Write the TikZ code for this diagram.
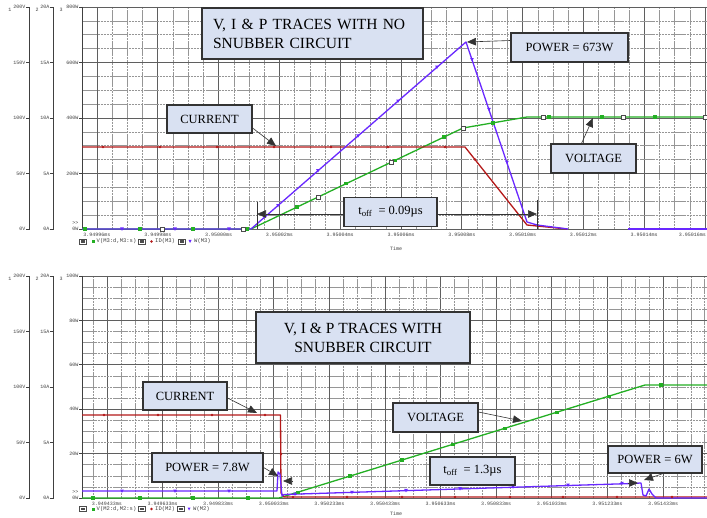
\documentclass[tikz,border=0pt]{standalone}
\usepackage{fontspec}
\setmainfont{Liberation Serif}
\setmonofont{Liberation Mono}
\usetikzlibrary{arrows.meta}
\definecolor{vgreen}{RGB}{35,175,35}
\definecolor{ired}{RGB}{180,25,25}
\definecolor{pblue}{RGB}{105,40,255}
\definecolor{boxfill}{RGB}{217,225,242}
\definecolor{majgrid}{RGB}{95,95,95}
\definecolor{mingrid}{RGB}{150,150,150}
\begin{document}
\begin{tikzpicture}[x=1pt,y=-1pt,
  majg/.style={draw=majgrid,line width=0.9pt},
  ming/.style={draw=mingrid,line width=0.5pt,dash pattern=on 2.5pt off 0.6pt},
  axc/.style={draw=black!75,line width=0.8pt},
  tick/.style={font=\ttfamily\fontsize{5}{5}\selectfont,text=black!75,inner sep=0pt},
  legt/.style={font=\ttfamily\fontsize{5.5}{5.5}\selectfont,text=black!75,inner sep=0pt,anchor=west},
  gtr/.style={draw=vgreen,line width=1.3pt,line join=round},
  rtr/.style={draw=ired,line width=1.3pt,line join=round},
  btr/.style={draw=pblue,line width=1.3pt,line join=round},
  lbl/.style={draw=black!80,line width=1.1pt,fill=boxfill,inner sep=0pt,
     font=\fontsize{12.5}{15}\selectfont,align=center},
  ttl/.style={draw=black!80,line width=1.1pt,fill=boxfill,inner ysep=0pt,
     font=\fontsize{15.5}{19}\selectfont},
  arr/.style={draw=black!80,line width=0.6pt,-{Triangle[length=9pt,width=7.5pt]}}
]
\useasboundingbox (0,0) rectangle (707,518);
\fill[white] (0,0) rectangle (707,518);

% ================= TOP PLOT GRID =================
\foreach \j in {0,...,40}{
  \pgfmathsetmacro\xx{97+15.2*\j}
  \pgfmathtruncatemacro\mymod{mod(\j,4)}
  \ifnum\mymod=0 \draw[majg] (\xx,7) -- (\xx,229); \else \draw[ming] (\xx,7) -- (\xx,229); \fi
}
\foreach \j in {1,...,15}{
  \pgfmathsetmacro\yy{229-13.875*\j}
  \pgfmathtruncatemacro\mymod{mod(\j,4)}
  \ifnum\mymod=0 \draw[majg] (82,\yy) -- (707,\yy); \else \draw[ming] (82,\yy) -- (707,\yy); \fi
}
\draw[majg] (82,7) -- (707,7);
\draw[majg] (82,229) -- (707,229);
\draw[axc] (82,7) -- (82,229);

% top axes
\draw[axc] (26,7) -- (29,7) -- (29,229) -- (26,229);
\draw[axc] (50,7) -- (53,7) -- (53,229) -- (50,229);
\foreach \v/\a/\w [count=\i from 0] in {0V/0A/0W,50V/5A/200W,100V/10A/400W,150V/15A/600W,200V/20A/800W}{
  \pgfmathsetmacro\yy{229-55.5*\i}
  \draw[axc] (26,\yy) -- (29,\yy);
  \draw[axc] (50,\yy) -- (53,\yy);
  \draw[axc] (79,\yy) -- (82,\yy);
  \node[tick,anchor=east] (tva\i) at (25.5,\yy) {\v};
  \node[tick,anchor=east] (taa\i) at (49.5,\yy) {\a};
  \node[tick,anchor=east] (twa\i) at (78.5,\yy) {\w};
}
\node[tick] (tn1) at (10,10) {1};
\node[tick] (tn2) at (37,10) {2};
\node[tick] (tn3) at (61,10) {3};
\node[tick,anchor=east] (tgg) at (78.5,223.5) {>>};

% top x labels
\foreach \t [count=\i from 0] in {3.94996ms,3.94998ms,3.95000ms,3.95002ms,3.95004ms,3.95006ms,3.95008ms,3.95010ms,3.95012ms,3.95014ms}{
  \pgfmathsetmacro\xx{97+60.8*\i}
  \node[tick] (txl\i) at (\xx,235) {\t};
}
\node[tick,anchor=east] (txl10) at (706,235) {3.95016ms};
\node[tick] (ttime) at (396,249) {Time};

% top legend
\foreach \bx in {83,142,182}{
  \draw[black!70,line width=0.5pt] (\bx-3.5,239) rectangle (\bx+3.5,244);
  \fill[black!70] (\bx-2,240.3) rectangle (\bx+2,242.7);
}
\fill[vgreen] (91.5,240) rectangle (94.5,243);
\node[legt] (tleg1) at (96.5,241.5) {V(M3:d,M3:s)};
\fill[ired] (151.5,241.5) circle (1.4);
\node[legt] (tleg2) at (155,241.5) {ID(M3)};
\fill[pblue] (188.5,240) -- (191.5,240) -- (190,243) -- cycle;
\node[legt] (tleg3) at (194,241.5) {W(M3)};

% top traces
\draw[gtr] (82,229) -- (251,229) -- (463,128) -- (527,117) -- (707,117);
\draw[rtr] (82,147) -- (465,147) -- (527,225) -- (567,229);
\draw[btr] (82,229) -- (251,229) -- (466,42) -- (527,222) -- (537,225) -- (568,229);
\draw[btr] (628,229) -- (707,229);

% top markers
\foreach \x in {85,140,193,247}{\fill[vgreen] (\x-1.6,227.4) rectangle (\x+1.6,230.6);}
\foreach \x in {297,346,395,444}{
  \pgfmathsetmacro\yy{229-0.4764*(\x-251)}
  \fill[vgreen] (\x-1.6,\yy-1.6) rectangle (\x+1.6,\yy+1.6);}
\fill[vgreen] (491.4,121.4) rectangle (494.6,124.6);
\foreach \x in {549,602,655}{\fill[vgreen] (\x-1.6,115.4) rectangle (\x+1.6,118.6);}
\foreach \x/\y in {162/229,243/229,318/197.1,391/162.3,463/128,543/117,623/117,705/117}{
  \filldraw[fill=white,draw=black!70,line width=0.5pt] (\x-2,\y-2) rectangle (\x+2,\y+2);}
\foreach \x in {103,160,217,274,331,388,445}{\fill[ired] (\x,147) circle (1.4);}
\fill[ired] (475,159.5) circle (1.4);
\foreach \x in {122,175,229}{\fill[pblue] (\x-1.8,227.5) -- (\x+1.8,227.5) -- (\x,230.8) -- cycle;}
\foreach \x in {278,318,358,398,437}{
  \pgfmathsetmacro\yy{229-0.8698*(\x-251)}
  \fill[pblue] (\x-1.8,\yy-1.5) -- (\x+1.8,\yy-1.5) -- (\x,\yy+1.8) -- cycle;}
\foreach \x in {472,489,507}{
  \pgfmathsetmacro\yy{42+2.934*(\x-466)}
  \fill[pblue] (\x-1.8,\yy-1.5) -- (\x+1.8,\yy-1.5) -- (\x,\yy+1.8) -- cycle;}

% top annotations
\node[ttl,minimum width=221pt,minimum height=51pt,text width=199pt,inner xsep=11pt,align=left]
  (title1) at (312.5,33.5) {V, I \& P TRACES WITH NO\\SNUBBER CIRCUIT};
\node[lbl,minimum width=85pt,minimum height=28pt] (cur1) at (209.5,119) {CURRENT};
\node[lbl,minimum width=117pt,minimum height=29pt] (p673) at (569.5,47.5) {POWER = 673W};
\node[lbl,minimum width=85pt,minimum height=29pt] (volt1) at (593.5,158.5) {VOLTAGE};
\node[lbl,minimum width=93pt,minimum height=29pt] (toff1) at (390.5,212) {t\textsubscript{off}\ \ = 0.09µs};
\coordinate (peak) at (467,42);
\coordinate (curA) at (276,146);
\coordinate (voltA) at (593,118);
\coordinate (tl1) at (257,214);
\coordinate (tr1) at (537,214);
\draw[arr] ([yshift=7pt]p673.west) -- (peak);
\draw[arr] ([yshift=-9pt]cur1.east) -- (curA);
\draw[arr] ([xshift=-12pt]volt1.north) -- (voltA);
\draw[arr] (toff1.west |- tl1) -- (tl1);
\draw[arr] (toff1.east |- tr1) -- (tr1);
\draw[draw=black!80,line width=0.8pt] (257,202) -- (257,229);
\draw[draw=black!80,line width=0.8pt] (537,200) -- (537,229);

% ================= BOTTOM PLOT GRID =================
\foreach \j in {-1,...,43}{
  \pgfmathsetmacro\xx{107+13.9*\j}
  \pgfmathtruncatemacro\mymod{mod(\j,4)}
  \ifnum\mymod=0 \draw[majg] (\xx,276) -- (\xx,498); \else \draw[ming] (\xx,276) -- (\xx,498); \fi
}
\foreach \j in {1,...,19}{
  \pgfmathsetmacro\yy{498-11.1*\j}
  \pgfmathtruncatemacro\mymod{mod(\j,4)}
  \ifnum\mymod=0 \draw[majg] (82,\yy) -- (707,\yy); \else \draw[ming] (82,\yy) -- (707,\yy); \fi
}
\draw[majg] (82,276) -- (707,276);
\draw[majg] (82,498) -- (707,498);
\draw[axc] (82,276) -- (82,498);

% bottom axes
\draw[axc] (26,276) -- (29,276) -- (29,498) -- (26,498);
\draw[axc] (50,276) -- (53,276) -- (53,498) -- (50,498);
\foreach \v/\a [count=\i from 0] in {0V/0A,50V/5A,100V/10A,150V/15A,200V/20A}{
  \pgfmathsetmacro\yy{498-55.5*\i}
  \draw[axc] (26,\yy) -- (29,\yy);
  \draw[axc] (50,\yy) -- (53,\yy);
  \node[tick,anchor=east] (bva\i) at (25.5,\yy) {\v};
  \node[tick,anchor=east] (baa\i) at (49.5,\yy) {\a};
}
\foreach \w [count=\i from 0] in {0W,20W,40W,60W,80W,100W}{
  \pgfmathsetmacro\yy{498-44.4*\i}
  \draw[axc] (79,\yy) -- (82,\yy);
  \node[tick,anchor=east] (bwa\i) at (78.5,\yy) {\w};
}
\node[tick] (bn1) at (10,279) {1};
\node[tick] (bn2) at (37,279) {2};
\node[tick] (bn3) at (61,279) {3};
\node[tick,anchor=east] (bgg) at (78.5,492.5) {>>};

% bottom x labels
\foreach \t [count=\i from 0] in {3.949433ms,3.949633ms,3.949833ms,3.950033ms,3.950233ms,3.950433ms,3.950633ms,3.950833ms,3.951033ms,3.951233ms,3.951433ms}{
  \pgfmathsetmacro\xx{107+55.6*\i}
  \node[tick] (bxl\i) at (\xx,504) {\t};
}
\node[tick] (btime) at (396,514) {Time};

% bottom legend
\foreach \bx in {83,142,181}{
  \draw[black!70,line width=0.5pt] (\bx-3.5,506.5) rectangle (\bx+3.5,511.5);
  \fill[black!70] (\bx-2,507.8) rectangle (\bx+2,510.2);
}
\fill[vgreen] (91.5,507.5) rectangle (94.5,510.5);
\node[legt] (bleg1) at (96.5,509) {V(M2:d,M2:s)};
\fill[ired] (151.5,509) circle (1.4);
\node[legt] (bleg2) at (155,509) {ID(M2)};
\fill[pblue] (187.5,507.5) -- (190.5,507.5) -- (189,510.5) -- cycle;
\node[legt] (bleg3) at (193,509) {W(M2)};

% bottom traces
\draw[gtr] (82,498) -- (279,498) -- (645,385) -- (707,385);
\draw[rtr] (82,415) -- (280.5,415) -- (281,493) -- (284,497) -- (707,497);
\draw[btr] (82,491) -- (277,491) -- (278,472) -- (280,474) -- (282,496) -- (284,494.5)
   -- (632,483.5) -- (641,483) -- (643,495) -- (646,496) -- (649,489) -- (652,494) -- (656,498) -- (707,498);

% bottom markers
\foreach \x in {93,140,193,248}{\fill[vgreen] (\x-1.6,496.4) rectangle (\x+1.6,499.6);}
\foreach \x in {298,350,402,453,505,557,609}{
  \pgfmathsetmacro\yy{498-0.3087*(\x-279)}
  \fill[vgreen] (\x-1.6,\yy-1.6) rectangle (\x+1.6,\yy+1.6);}
\fill[vgreen] (659.4,383.4) rectangle (662.6,386.6);
\foreach \x in {104,158,212,265}{\fill[ired] (\x,415) circle (1.4);}
\fill[ired] (281,454) circle (1.4);
\foreach \x in {293,347,402,455,510,563,617,672}{\fill[ired] (\x,497) circle (1.4);}
\foreach \x in {122,175,229}{\fill[pblue] (\x-1.8,489.5) -- (\x+1.8,489.5) -- (\x,492.8) -- cycle;}
\foreach \x in {295,352,406,460,513,568,622}{
  \pgfmathsetmacro\yy{494.5-0.03295*(\x-284)}
  \fill[pblue] (\x-1.8,\yy-1.5) -- (\x+1.8,\yy-1.5) -- (\x,\yy+1.8) -- cycle;}

% bottom annotations
\node[ttl,minimum width=214pt,minimum height=51pt,align=center]
  (title2) at (363,337.5) {V, I \& P TRACES WITH\\SNUBBER CIRCUIT};
\node[lbl,minimum width=84pt,minimum height=28pt] (cur2) at (185,396) {CURRENT};
\node[lbl,minimum width=85pt,minimum height=29pt] (volt2) at (435.5,417.5) {VOLTAGE};
\node[lbl,minimum width=111pt,minimum height=29pt] (p78) at (207.5,467.5) {POWER = 7.8W};
\node[lbl,minimum width=85pt,minimum height=28pt] (toff2) at (472.5,471) {t\textsubscript{off}\ \ = 1.3µs};
\node[lbl,minimum width=94pt,minimum height=27pt] (p6) at (655,459.5) {POWER = 6W};
\coordinate (curB) at (257,413);
\coordinate (voltB) at (522,421);
\coordinate (spk) at (278,476);
\coordinate (pw6) at (644,480);
\coordinate (tl2) at (283,481);
\coordinate (tl2s) at (293,481);
\coordinate (tr2) at (638,483);
\coordinate (tr2s) at (628,483);
\draw[arr] ([yshift=-2pt]cur2.east) -- (curB);
\draw[arr] ([yshift=5.5pt]volt2.east) -- (voltB);
\draw[arr] (p78.east) -- (spk);
\draw[arr] ([xshift=8pt]p6.south) -- (pw6);
\draw[arr] (tl2s) -- (tl2);
\draw[arr] (tr2s) -- (tr2);
\end{tikzpicture}
\end{document}
